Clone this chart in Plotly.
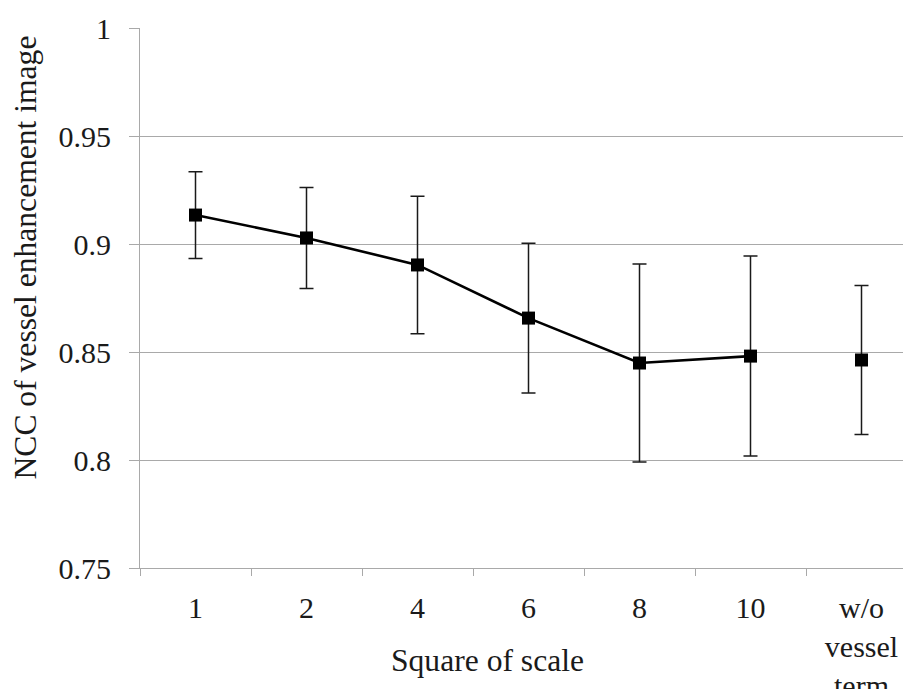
import plotly.graph_objects as go

categories = ["1", "2", "4", "6", "8", "10", "w/o<br>vessel<br>term"]
ncc_mean = [0.9134, 0.9028, 0.8903, 0.8657, 0.8449, 0.8481, 0.8463]
ncc_err = [0.0201, 0.0234, 0.0318, 0.0347, 0.0458, 0.0463, 0.0345]
connected_count = 6  # "w/o vessel term" is not joined by the line

y_ticks = [0.75, 0.8, 0.85, 0.9, 0.95, 1.0]
y_ticktext = ["0.75", "0.8", "0.85", "0.9", "0.95", "1"]

x_title = "Square of scale"
y_title = "NCC of vessel enhancement image"

FONT = "Liberation Serif"
TXT = "#1a1a1a"
GRID = "#a9a9a9"

fig = go.Figure()

fig.add_trace(go.Scatter(
    x=categories[:connected_count], y=ncc_mean[:connected_count],
    mode="lines", line=dict(color="black", width=2.6),
    hoverinfo="skip", showlegend=False,
))
fig.add_trace(go.Scatter(
    x=categories, y=ncc_mean,
    mode="markers",
    marker=dict(symbol="square", size=13, color="black"),
    error_y=dict(type="data", array=ncc_err, visible=True,
                 color="#1a1a1a", thickness=1.5, width=7),
    showlegend=False,
))

fig.update_layout(
    width=911, height=689,
    margin=dict(l=132, r=2, t=20, b=129),
    paper_bgcolor="white", plot_bgcolor="white",
    font=dict(family=FONT, size=30, color=TXT),
    showlegend=False,
)

fig.update_xaxes(
    type="category",
    categoryorder="array", categoryarray=categories,
    range=[-0.5, 6.5],
    automargin=False,
    showgrid=False,
    showline=True, linecolor=GRID, linewidth=1.2,
    ticks="outside", tickson="boundaries", ticklen=7, tickcolor=GRID, tickwidth=1,
    ticklabelstandoff=13,
    tickfont=dict(family=FONT, size=30, color=TXT),
)

fig.update_yaxes(
    range=[0.75, 1.0],
    tickvals=y_ticks, ticktext=y_ticktext,
    automargin=False,
    showgrid=True, gridcolor=GRID, gridwidth=1.2,
    showline=True, linecolor=GRID, linewidth=1.2,
    ticks="outside", ticklen=10, tickcolor=GRID, tickwidth=1,
    ticklabelstandoff=12,
    zeroline=False,
    tickfont=dict(family=FONT, size=30, color=TXT),
)

fig.add_annotation(
    text=y_title, xref="paper", yref="paper",
    x=(17 - 132) / 777, y=0.575,
    xanchor="center", yanchor="middle",
    textangle=-90, showarrow=False,
    font=dict(family=FONT, size=31.6, color=TXT),
)
fig.add_annotation(
    text=x_title, xref="paper", yref="paper",
    x=(479 - 132) / 777, y=-(652 - 560) / 540,
    xanchor="center", yanchor="middle",
    showarrow=False,
    font=dict(family=FONT, size=31.6, color=TXT),
)

fig.write_html("out.html")
